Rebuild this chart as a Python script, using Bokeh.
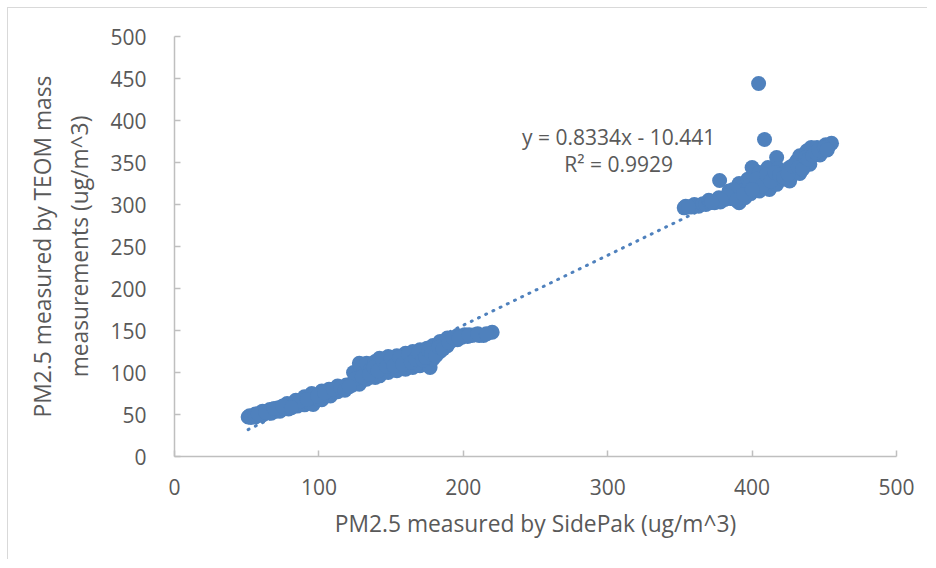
from bokeh.plotting import figure
from bokeh.models import Label
from bokeh.embed import file_html
from bokeh.resources import INLINE

# SidePak (x) vs TEOM (y) PM2.5 readings
sidepak = [
    51, 52, 53, 56, 56, 59, 61, 61, 64, 66, 67, 70, 72, 73, 76, 78, 79,
    82, 84, 85, 88, 90, 90, 93, 95, 96, 97, 100, 102, 102, 105, 107, 108,
    111, 113, 113, 116, 119, 119, 122, 124, 123, 127, 128, 128, 129,
    131, 133, 133, 136, 139, 139, 142, 142, 142, 145, 148, 148,
    151, 154, 154, 157, 160, 160, 163, 165, 165, 168, 170, 170,
    173, 175, 175, 177, 179, 179, 182, 184, 184, 187, 189, 189,
    192, 196, 196, 199, 201, 203, 206, 208, 211, 214, 220,
    125, 130, 135, 138, 141, 144, 147, 150, 152, 156, 158, 162, 164,
    167, 169, 172, 174, 176, 178, 181, 183, 186, 190, 193, 197, 204,
    210, 216, 87, 92, 99, 104, 110, 115, 118, 121, 58, 63, 69, 75, 81,
    353, 354, 358, 360, 363, 366, 368, 370, 371, 374, 377, 378, 377.5,
    381, 384, 385, 388, 391, 391, 392, 395, 397, 399, 400, 402, 405, 405,
    408, 411, 412, 414, 417, 417, 418, 421, 424, 426, 426, 429, 431, 433, 433,
    436, 438, 440, 441, 443, 445, 447, 449, 451, 453, 455,
    395, 398, 403, 407, 410, 413, 416, 419, 422, 425, 428, 432, 435, 437,
    439, 442, 444, 446, 450, 452, 387, 383, 389, 394, 400, 379, 372, 356,
    404.5, 408.6,
]
teom = [
    47, 48.5, 46.5, 47, 50.5, 49, 54, 49.5, 52, 56, 51.5, 54, 58, 54, 57, 63, 56.5,
    60, 67, 60, 63, 71, 61.5, 65, 75, 62, 69, 68, 78, 67.5, 73, 80, 72,
    77, 84, 77, 80, 85, 82, 86, 100, 85, 95, 111, 86, 105,
    100, 111, 92, 104, 113, 94, 108, 117, 96, 110, 119, 100,
    112, 120, 102, 115, 123, 104, 118, 125, 106, 120, 127, 108,
    122, 129, 110, 106, 132, 116, 128, 137, 125, 135, 141, 132,
    138, 144, 139, 142, 145, 143, 144, 145, 144, 144, 148,
    92, 95, 98, 106, 102, 115, 107, 117, 108, 118, 110, 122, 112,
    116, 124, 115, 118, 126, 122, 120, 130, 128, 136, 141, 141, 145,
    146, 146, 66, 68, 72, 76, 80, 82, 79, 83, 51, 53, 57, 60, 58,
    296, 298, 297, 300, 298, 301, 300, 305, 302, 302, 308, 303, 328.5,
    306, 316, 307, 310, 325, 302, 315, 318, 330, 313, 344, 322, 338, 316,
    328, 344, 318, 335, 356, 324, 343, 330, 340, 328, 344, 340, 352, 337, 358,
    350, 364, 348, 368, 360, 368, 359, 366, 371, 369, 373,
    308, 322, 330, 322, 335, 328, 338, 335, 332, 336, 346, 344, 342, 356,
    354, 358, 362, 365, 368, 365, 318, 310, 305, 312, 318, 305, 303, 297,
    444, 377.4,
]

# trendline shown in the chart
slope = 0.8334
intercept = -10.441
eq_text = ["y = 0.8334x - 10.441", "R\u00b2 = 0.9929"]

x_ticks = [0, 100, 200, 300, 400, 500]
y_ticks = [0, 50, 100, 150, 200, 250, 300, 350, 400, 450, 500]

FONT = "Open Sans"
TXT = "#595959"
AX = "#bfbfbf"
BLUE = "#4F81BD"

p = figure(width=920, height=552, x_range=(0, 500), y_range=(0, 500),
           output_backend="svg", toolbar_location=None,
           min_border_left=166, min_border_top=28, min_border_right=32,
           min_border_bottom=104)
p.styles = {"margin-left": "7px", "margin-top": "7px",
            "border-top": "1.5px solid #d9d9d9", "border-left": "1.5px solid #d9d9d9"}
p.xgrid.visible = False
p.ygrid.visible = False
p.outline_line_color = None

p.xaxis.ticker = x_ticks
p.yaxis.ticker = y_ticks
for ax in (p.xaxis, p.yaxis):
    ax.axis_line_color = AX
    ax.axis_line_width = 1.5
    ax.major_tick_line_color = AX
    ax.major_tick_line_width = 1.5
    ax.major_tick_in = 6
    ax.major_tick_out = 0
    ax.minor_tick_line_color = None
    ax.major_label_text_font = FONT
    ax.major_label_text_font_size = "21px"
    ax.major_label_text_color = TXT
    ax.axis_label_text_font = FONT
    ax.axis_label_text_font_size = "22.8px"
    ax.axis_label_text_font_style = "normal"
    ax.axis_label_text_color = TXT

p.xaxis.major_label_standoff = 22
p.yaxis.major_label_standoff = 28
p.xaxis.axis_label = "PM2.5 measured by SidePak (ug/m^3)"
p.xaxis.axis_label_standoff = 10
p.yaxis.axis_label = "PM2.5 measured by TEOM mass\nmeasurements (ug/m^3)"
p.yaxis.axis_label_standoff = 12

tx = [min(sidepak), max(sidepak)]
ty = [slope * v + intercept for v in tx]
p.line(tx, ty, line_color=BLUE, line_width=3, line_dash="1 7", line_cap="round")

p.scatter(sidepak, teom, size=15, fill_color=BLUE, line_color=BLUE, line_width=0)

p.add_layout(Label(x=307.6, y=379.8, text=eq_text[0], text_align="center",
                   text_baseline="middle", text_font=FONT,
                   text_font_size="21px", text_color=TXT))
p.add_layout(Label(x=307.6, y=348.8, text=eq_text[1], text_align="center",
                   text_baseline="middle", text_font=FONT,
                   text_font_size="21px", text_color=TXT))

open("out.html", "w").write(file_html(p, INLINE))
